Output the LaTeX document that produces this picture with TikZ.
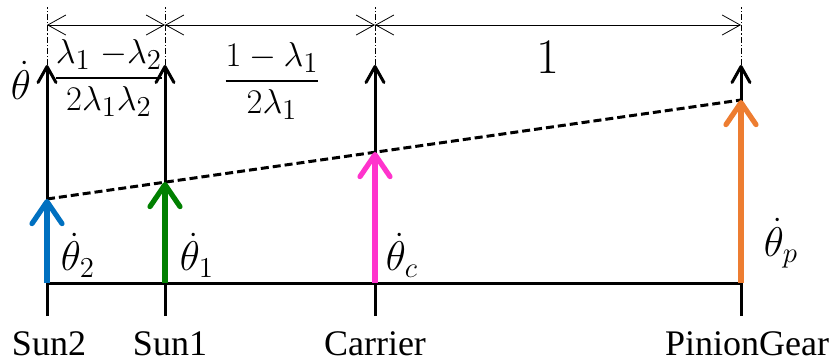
\documentclass[tikz,border=0pt]{standalone}
\usepackage{amsmath}
\usepackage{fontspec}
\setmainfont{Liberation Serif}
\usepackage{xcolor}
\usetikzlibrary{arrows.meta}

\definecolor{sunblue}{RGB}{0,112,192}
\definecolor{sungreen}{RGB}{0,128,0}
\definecolor{carriermag}{RGB}{255,51,204}
\definecolor{pinionorange}{RGB}{237,125,49}

\begin{document}
\begin{tikzpicture}[x=0.5pt, y=-0.5pt,
  every node/.style={font=\fontsize{18}{21}\selectfont, inner sep=0pt},
  mathlab/.style={font=\fontsize{21}{24}\selectfont},
  fraclab/.style={font=\fontsize{19}{22}\selectfont},
  axis/.style={line width=1.5pt},
  guide/.style={line width=0.4pt, dash pattern=on 3pt off 1pt on 0.6pt off 1pt},
  lever/.style={line width=1.5pt, dash pattern=on 4pt off 2pt},
  speed/.style={line width=2.6pt, -{Straight Barb[length=11pt, width=15pt, round]}},
  dimline/.style={line width=0.4pt, {Straight Barb[length=9pt, width=10pt]}-{Straight Barb[length=9pt, width=10pt]}}]
  \useasboundingbox (0,0) rectangle (831,360);
  % Gear positions
  \foreach \n/\x/\yl in {s2/47/199, s1/165/182, c/375/152, p/741/100} {
    \coordinate (\n-bot) at (\x,316);
    \coordinate (\n-base) at (\x,283);
    \coordinate (\n-top) at (\x,65);
    \coordinate (\n-mark) at (\x,25);
    \coordinate (\n-end) at (\x,7);
    \coordinate (\n-lev) at (\x,\yl);
  }
  % Axes
  \draw[axis] (s2-base) -- (p-base);
  \foreach \n in {s2, s1, c, p} {
    \draw[axis] (\n-bot) -- (\n-base);
    \draw[axis, -{Straight Barb[length=8pt, width=9pt, round]}] (\n-base) -- (\n-top);
    \draw[guide] (\n-top) -- (\n-end);
  }
  % Distances
  \draw[dimline] (s2-mark) -- (s1-mark);
  \draw[dimline] (s1-mark) -- (c-mark);
  \draw[dimline] (c-mark) -- (p-mark);
  \node[fraclab] (d21) at (109,78) {$\dfrac{\lambda_1\;{-}\lambda_2}{2\lambda_1\lambda_2}$};
  \node[fraclab] (d1c) at (272,81) {$\dfrac{1-\lambda_1}{2\lambda_1}$};
  \node[font=\fontsize{25}{28}\selectfont] (dcp) at (548,57) {$1$};
  % Lever line and speeds
  \draw[lever] (s2-lev) -- (p-lev);
  \foreach \n/\c in {s2/sunblue, s1/sungreen, c/carriermag, p/pinionorange} {
    \draw[speed, \c] (\n-base) -- (\n-lev);
  }
  \node[mathlab] (wax) at (21,80) {$\dot{\theta}$};
  \node[mathlab] (w2) at (78,255) {$\dot{\theta}_2$};
  \node[mathlab] (w1) at (197,255) {$\dot{\theta}_1$};
  \node[mathlab] (wc) at (402,255) {$\dot{\theta}_c$};
  \node[mathlab] (wp) at (781,243) {$\dot{\theta}_p$};
  % Gear names
  \foreach \n/\x/\lab in {s2/49/Sun2, s1/170/Sun1, c/375/Carrier, p/747/PinionGear} {
    \node[anchor=base] (name-\n) at (\x,355) {\lab};
  }
\end{tikzpicture}
\end{document}
